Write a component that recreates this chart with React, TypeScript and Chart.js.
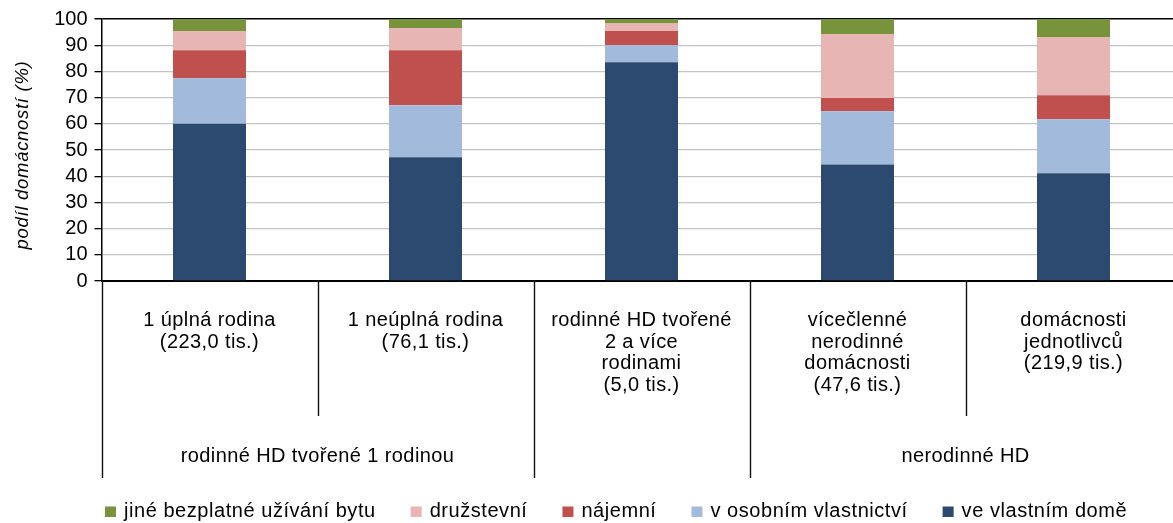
import React, { useEffect, useRef } from "react";
import { Chart, registerables } from "chart.js";

Chart.register(...registerables);

// ---- data ----
const categories: string[][] = [
  ["1 úplná rodina", "(223,0 tis.)"],
  ["1 neúplná rodina", "(76,1 tis.)"],
  ["rodinné HD tvořené", "2 a více", "rodinami", "(5,0 tis.)"],
  ["vícečlenné", "nerodinné", "domácnosti", "(47,6 tis.)"],
  ["domácnosti", "jednotlivců", "(219,9 tis.)"],
];
const groupLabels = ["rodinné HD tvořené 1 rodinou", "", "nerodinné HD"];
const groupFrom = [0, 2, 3];
const groupTo = [1, 2, 4];

const seriesNames = [
  "ve vlastním domě",
  "v osobním vlastnictví",
  "nájemní",
  "družstevní",
  "jiné bezplatné užívání bytu",
];
const veVlastnimDome = [60.0, 47.2, 83.5, 44.5, 41.1];
const vOsobnimVlastnictvi = [17.4, 19.9, 6.5, 20.3, 20.6];
const najemni = [10.7, 21.0, 5.4, 5.0, 9.2];
const druzstevni = [7.3, 8.5, 3.1, 24.5, 22.2];
const jineBezplatne = [4.6, 3.4, 1.5, 5.7, 6.9];
const seriesColors = ["#2C4A6F", "#A2BBDC", "#C0504E", "#E6B5B4", "#77933C"];
const yTitle = "podíl domácností (%)";
const yMin = 0;
const yMax = 100;
const yStep = 10;

const FONT = '"Liberation Sans", Arial, Helvetica, sans-serif';

const annotationPlugin = {
  id: "bottomAnnotations",
  afterDraw(chart: any) {
    const ctx = chart.ctx as CanvasRenderingContext2D;
    const area = chart.chartArea;
    const x = chart.scales.x;
    const n = chart.data.labels.length;
    const half = (x.getPixelForValue(1) - x.getPixelForValue(0)) / 2;
    const edge = (b: number) => x.getPixelForValue(b) - half;

    ctx.save();
    (ctx as any).letterSpacing = "0.4px";
    ctx.fillStyle = "#000";
    ctx.strokeStyle = "#111";
    ctx.lineWidth = 1.4;

    // divider lines
    const longSet = new Set<number>();
    groupFrom.forEach((f) => longSet.add(f));
    groupTo.forEach((t) => longSet.add(t + 1));
    for (let b = 0; b <= n; b++) {
      const px = Math.round(edge(b)) + 0.5;
      const yEnd = longSet.has(b) ? 478 : 416;
      ctx.beginPath();
      ctx.moveTo(px, area.bottom);
      ctx.lineTo(px, yEnd);
      ctx.stroke();
    }

    // category labels
    ctx.font = `20px ${FONT}`;
    ctx.textAlign = "center";
    ctx.textBaseline = "alphabetic";
    categories.forEach((lines, i) => {
      const cx = x.getPixelForValue(i);
      lines.forEach((ln, k) => {
        ctx.fillText(ln, cx, 326 + k * 21.7);
      });
    });

    // group labels
    groupLabels.forEach((g, gi) => {
      if (!g) return;
      const cx = (edge(groupFrom[gi]) + edge(groupTo[gi] + 1)) / 2;
      ctx.fillText(g, cx, 462);
    });

    // legend (reverse order)
    (ctx as any).letterSpacing = "0.55px";
    ctx.textAlign = "left";
    const ds = chart.data.datasets.slice().reverse();
    let lx = 105;
    ds.forEach((d: any) => {
      ctx.fillStyle = d.backgroundColor;
      ctx.fillRect(lx, 506.5, 11, 10.5);
      ctx.fillStyle = "#000";
      ctx.fillText(d.label, lx + 19, 517);
      const w = ctx.measureText(d.label).width;
      lx += 19 + w + 35;
    });

    // y title
    (ctx as any).letterSpacing = "0.7px";
    ctx.save();
    ctx.translate(23, (area.top + area.bottom) / 2 + 5);
    ctx.rotate(-Math.PI / 2);
    ctx.font = `italic 18.5px ${FONT}`;
    ctx.textAlign = "center";
    ctx.textBaseline = "middle";
    ctx.fillText(yTitle, 0, 0);
    ctx.restore();

    ctx.restore();
  },
};

export default function App() {
  const ref = useRef<HTMLCanvasElement | null>(null);

  useEffect(() => {
    if (!ref.current) return;
    Chart.defaults.font.family = FONT;
    const values = [veVlastnimDome, vOsobnimVlastnictvi, najemni, druzstevni, jineBezplatne];
    const chart = new Chart(ref.current, {
      type: "bar",
      data: {
        labels: categories.map((c) => c.join(" ")),
        datasets: values.map((v, i) => ({
          label: seriesNames[i],
          data: v,
          backgroundColor: seriesColors[i],
          borderWidth: 0,
          barPercentage: 0.338,
          categoryPercentage: 1,
        })),
      },
      options: {
        responsive: false,
        animation: false,
        layout: { padding: { top: 19, right: 8.5, left: 0, bottom: 0 } },
        plugins: {
          legend: { display: false },
          tooltip: { enabled: false },
        },
        scales: {
          x: {
            stacked: true,
            ticks: { display: false },
            grid: { display: false },
            border: { display: true, color: "#000", width: 2 },
            afterFit: (s: any) => {
              s.height = 242;
            },
          },
          y: {
            stacked: true,
            min: yMin,
            max: yMax,
            ticks: {
              stepSize: yStep,
              autoSkip: false,
              color: "#000",
              font: { size: 20, family: FONT },
              padding: 7,
            },
            grid: {
              color: (c: any) => (c.tick && c.tick.value === yMax ? "#000" : "#c4c4c4"),
              lineWidth: (c: any) => (c.tick && c.tick.value === yMax ? 1.5 : 1.3),
              tickColor: "#000",
              tickLength: 7,
            },
            border: { display: true, color: "#000", width: 1.5 },
            afterFit: (s: any) => {
              s.width = 101.5;
            },
          },
        },
      },
      plugins: [annotationPlugin],
    });
    return () => chart.destroy();
  }, []);

  return (
    <div
      style={{
        position: "fixed",
        left: 0,
        top: 0,
        width: 1173,
        height: 523,
        overflow: "hidden",
        background: "#fff",
      }}
    >
      <canvas ref={ref} width={1190} height={523} style={{ display: "block" }} />
    </div>
  );
}
